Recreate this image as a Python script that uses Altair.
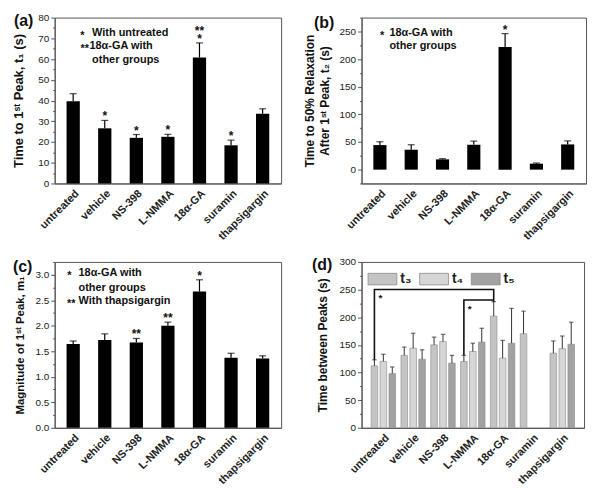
import altair as alt
import pandas as pd

FONT = "Liberation Sans"

categories = ["untreated", "vehicle", "NS-398", "L-NMMA", "18α-GA", "suramin", "thapsigargin"]

# (a) time to 1st peak t1 (s)
t1_mean = [39.7, 26.6, 22.0, 22.5, 60.8, 18.4, 33.6]
t1_err = [3.6, 3.8, 1.6, 1.2, 7.0, 2.5, 2.4]
t1_sig = ["", "*", "*", "*", "*", "*", ""]
t1_sig2 = ["", "", "", "", "**", "", ""]

# (b) time to 50% relaxation t2 (s)
t2_mean = [44.4, 36.0, 18.6, 45.0, 222.0, 10.8, 45.6]
t2_err = [6.0, 9.0, 1.2, 6.6, 24.0, 1.2, 6.4]
t2_sig = ["", "", "", "", "*", "", ""]

# (c) magnitude of 1st peak m1
m1_mean = [1.64, 1.72, 1.67, 2.00, 2.67, 1.37, 1.36]
m1_err = [0.06, 0.12, 0.08, 0.07, 0.23, 0.09, 0.05]
m1_sig = ["", "", "**", "**", "*", "", ""]

# (d) time between peaks (s)
series = ["t₃", "t₄", "t₅"]
t3_mean = [112, 131, 150, 120, 202, 170, 135]
t3_err = [11, 15, 14, 11, 26, 41, 22]
t4_mean = [120, 144, 156, 138, 126, None, 143]
t4_err = [13, 27, 13, 15, 32, None, 23]
t5_mean = [98, 124, 117, 155, 153, None, 151]
t5_err = [12, 17, 14, 25, 63, None, 40]
series_colors = ["#c4c4c4", "#d6d6d6", "#a2a2a2"]

# significance brackets in (d): (bracket, order, category, level)
br_id = [1, 1, 1, 1, 2, 2, 2]
br_order = [0, 1, 2, 3, 0, 1, 2]
br_cat = ["untreated", "untreated", "18α-GA", "18α-GA", "L-NMMA", "L-NMMA", "18α-GA"]
br_val = [123, 250, 250, 228, 131, 231, 231]
br_star_cat = ["untreated", "L-NMMA"]
br_star_val = [230, 210]

one = pd.DataFrame({"k": [0]})


def label(s, x, y, align="left", size=11, dy=0):
    return alt.Chart(one).mark_text(
        text=s, align=align, baseline="middle", fontSize=size,
        fontWeight="bold", font=FONT, dy=dy, color="#111"
    ).encode(x=alt.value(x), y=alt.value(y))


def y_axis(title, values, major, fmt, extent, tpad, tsize):
    return alt.Axis(
        title=title, values=values, format=fmt,
        labelExpr=f"({major}) ? datum.label : ''",
        tickSize={"condition": {"test": major, "value": 4}, "value": 2},
        grid=False, minExtent=extent, maxExtent=extent, titlePadding=tpad,
        labelFontSize=10, titleFontSize=tsize, titleFontWeight="bold",
        titleLineHeight=15, labelPadding=2,
    )


x_axis = alt.Axis(title=None, labelAngle=315, labelAlign="right", labelBaseline="top",
                  ticks=False, labelFontWeight="bold", labelFontSize=11, labelPadding=4)


def bar_panel(mean, err, sigs, domain, values, major, fmt, title, tpad, tsize):
    df = pd.DataFrame({"cat": categories, "mean": mean, "err": err})
    df["top"] = df["mean"] + df["err"]
    for i, s in enumerate(sigs):
        df[f"sig{i}"] = s
    X = alt.X("cat:N", sort=categories, axis=x_axis,
              scale=alt.Scale(paddingInner=0.58, paddingOuter=0.376))
    sc = alt.Scale(domain=domain, nice=False, zero=False)
    ax = y_axis(title, values, major, fmt, 22, tpad, tsize)
    base = alt.Chart(df)
    bars = base.mark_bar(color="black").encode(x=X, y=alt.Y("mean:Q", scale=sc, axis=ax))
    rule = base.mark_rule(color="black", strokeWidth=1.2).encode(
        x=X, y=alt.Y("mean:Q", scale=sc, axis=ax), y2="top:Q")
    cap = base.mark_tick(color="black", thickness=1.2, size=7).encode(
        x=X, y=alt.Y("top:Q", scale=sc, axis=ax))
    layers = [bars, rule, cap]
    for i in range(len(sigs)):
        layers.append(base.mark_text(font=FONT, fontSize=12, fontWeight="bold",
                                     baseline="alphabetic", dy=-8.3 * i, color="#111").encode(
            x=X, y=alt.Y("top:Q", scale=sc, axis=ax), text=f"sig{i}:N"))
    return layers


# ---- panel (a)
la = bar_panel(t1_mean, t1_err, [t1_sig, t1_sig2], [0, 80], list(range(0, 81, 5)),
               "datum.value % 10 === 0", "d", "Time to 1ˢᵗ Peak, t₁ (s)", 7, 13)
la += [label("(a)", -41, 3.5, size=16),
       label("*", 28, 15.7, align="center", dy=3),
       label("With untreated", 37.7, 15.7),
       label("**", 34.5, 29, align="right", dy=3),
       label("18α-GA with", 35, 29),
       label("other groups", 37.7, 42.3)]
pa = alt.layer(*la).properties(width=228, height=167)

# ---- panel (b)
lb = bar_panel(t2_mean, t2_err, [t2_sig], [-25, 275], list(range(-25, 276, 25)),
               "datum.value % 50 === 0", "d",
               ["Time to 50% Relaxation", "After 1ˢᵗ Peak, t₂ (s)"], 8, 12)
lb += [label("(b)", -48, 5, size=16),
       label("*", 20.7, 15.7, align="center", dy=3),
       label("18α-GA with", 28, 15.7),
       label("other groups", 28, 29)]
pb = alt.layer(*lb).properties(width=226, height=167)

# ---- panel (c)
lc = bar_panel(m1_mean, m1_err, [m1_sig], [0, 3.25], [i * 0.25 for i in range(14)],
               "abs(datum.value*2 - round(datum.value*2)) < 0.001", ".1f",
               "Magnitude of 1ˢᵗ Peak, m₁", 7, 11.5)
lc += [label("(c)", -42, 5, size=16),
       label("*", 14.7, 11.6, align="center", dy=3),
       label("18α-GA with", 24, 11.6),
       label("other groups", 24, 26),
       label("**", 21, 39.3, align="right", dy=3),
       label("With thapsigargin", 24, 39.3)]
pc = alt.layer(*lc).properties(width=228, height=167)

# ---- panel (d)
rows = []
for s, m, e in zip(series, [t3_mean, t4_mean, t5_mean], [t3_err, t4_err, t5_err]):
    for c, mv, ev in zip(categories, m, e):
        if mv is not None:
            rows.append({"cat": c, "series": s, "mean": mv, "top": mv + ev})
dfd = pd.DataFrame(rows)
Xd = alt.X("cat:N", sort=categories, axis=x_axis,
           scale=alt.Scale(domain=categories, paddingInner=0, paddingOuter=0.23))
XO = alt.XOffset("series:N", scale=alt.Scale(domain=series, paddingInner=0.26, paddingOuter=0.3))
scd = alt.Scale(domain=[0, 300], nice=False, zero=False)
axd = y_axis("Time between Peaks (s)", list(range(0, 301, 25)), "datum.value % 50 === 0",
             "d", 22, 10, 12)
based = alt.Chart(dfd)
bars_d = based.mark_bar(stroke="#8a8a8a", strokeWidth=0.6).encode(
    x=Xd, xOffset=XO, y=alt.Y("mean:Q", scale=scd, axis=axd),
    color=alt.Color("series:N", scale=alt.Scale(domain=series, range=series_colors),
                    legend=alt.Legend(title=None, orient="none", legendX=6, legendY=2,
                                      direction="horizontal",
                                      symbolType="M-1,-0.4H1V0.4H-1Z", symbolSize=841,
                                      symbolStrokeColor="#8a8a8a", symbolStrokeWidth=0.8,
                                      labelFontSize=14, labelFontWeight="bold",
                                      labelFont=FONT, labelOffset=3, columnPadding=5,
                                      labelColor="#222")))
rule_d = based.mark_rule(color="#333", strokeWidth=1).encode(
    x=Xd, xOffset=XO, y=alt.Y("mean:Q", scale=scd, axis=axd), y2="top:Q")
cap_d = based.mark_tick(color="#333", thickness=1.2, size=4.5).encode(
    x=Xd, xOffset=XO, y=alt.Y("top:Q", scale=scd, axis=axd))
dfb = pd.DataFrame({"b": br_id, "o": br_order, "cat": br_cat, "series": "t₃", "v": br_val})
brackets = alt.Chart(dfb).mark_line(color="#111", strokeWidth=1.6).encode(
    x=Xd, xOffset=XO, y=alt.Y("v:Q", scale=scd, axis=axd), detail="b:N", order="o:Q")
dfs = pd.DataFrame({"cat": br_star_cat, "series": "t₃", "v": br_star_val, "s": "*"})
stars = alt.Chart(dfs).mark_text(font=FONT, fontSize=10, fontWeight="bold", align="left",
                                 dx=4, baseline="alphabetic", color="#111").encode(
    x=Xd, xOffset=XO, y=alt.Y("v:Q", scale=scd, axis=axd), text="s:N")
pd_ = alt.layer(bars_d, rule_d, cap_d, brackets, stars,
                label("(d)", -50, 3, size=16)).properties(width=224, height=167)

chart = alt.concat(pa, pb, pc, pd_, columns=2, spacing={"row": 79, "column": 81},
                   bounds="flush").resolve_scale(color="independent").properties(
    padding={"left": 4, "top": 2, "right": 5, "bottom": 5}
).configure_view(stroke="#555", strokeWidth=1).configure_axis(
    domainColor="#555", tickColor="#555", labelColor="#222", titleColor="#111",
    labelFont=FONT, titleFont=FONT
).configure_text(font=FONT)

chart.save("out.html", embed_options={"renderer": "svg", "actions": False})
